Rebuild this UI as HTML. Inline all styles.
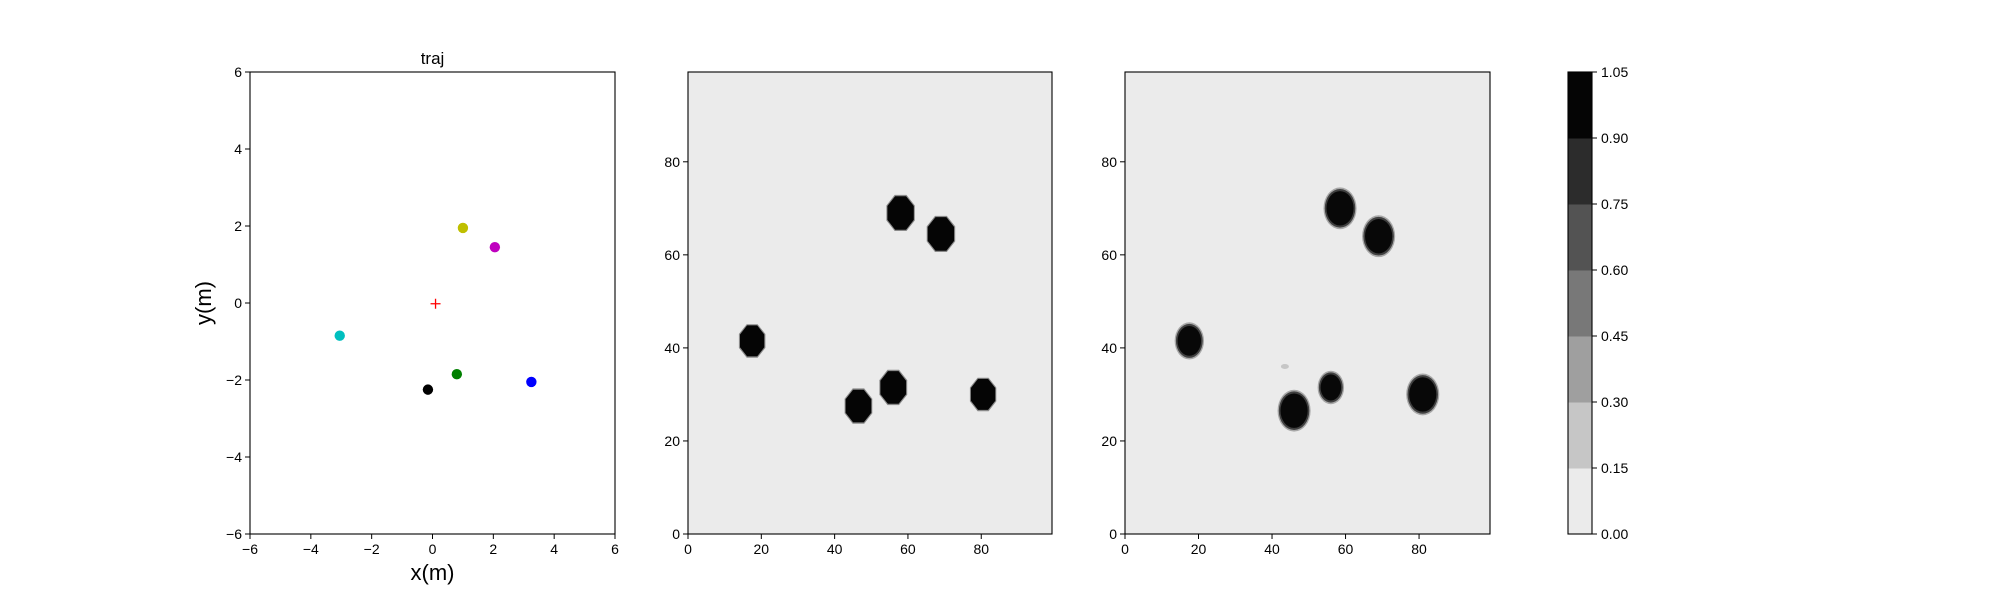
<!DOCTYPE html>
<html><head><meta charset="utf-8"><style>
body{margin:0;background:#fff;}
svg{display:block;font-family:"Liberation Sans","DejaVu Sans",sans-serif;}
</style></head><body>
<svg id="fig" width="2000" height="600" viewBox="0 0 2000 600" xmlns="http://www.w3.org/2000/svg"></svg>
<script>
// ---- data ----
const trajX = [1.0, 2.05, -3.05, 0.8, -0.15, 3.25];
const trajY = [1.95, 1.45, -0.85, -1.85, -2.25, -2.05];
const trajColors = ['#bfbf00', '#bf00bf', '#00bfbf', '#008000', '#000000', '#0000ff'];
const goalX = [0.1];
const goalY = [-0.02];
const trajTicks = [-6, -4, -2, 0, 2, 4, 6];

const map1X = [17.5, 58, 69, 46.5, 56, 80.5];
const map1Y = [41.5, 69, 64.5, 27.5, 31.5, 30];
const map1R = [3.6, 3.9, 3.9, 3.8, 3.8, 3.6];

const map2X = [17.5, 58.5, 69, 46, 56, 81];
const map2Y = [41.5, 70, 64, 26.5, 31.5, 30];
const map2R = [3.5, 4.0, 4.0, 4.0, 3.1, 4.0];
const faintX = [43.5];
const faintY = [36];

const mapXTicks = [0, 20, 40, 60, 80];
const mapYTicks = [0, 20, 40, 60, 80];
const cbLevels = [0.00, 0.15, 0.30, 0.45, 0.60, 0.75, 0.90, 1.05];
const cbColors = ['#ebebeb', '#c6c6c6', '#9f9f9f', '#787878', '#535353', '#2c2c2c', '#050505'];

// ---- helpers ----
const NS = 'http://www.w3.org/2000/svg';
const svg = document.getElementById('fig');
function el(tag, attrs, parent) {
  const e = document.createElementNS(NS, tag);
  for (const k in attrs) e.setAttribute(k, attrs[k]);
  (parent || svg).appendChild(e);
  return e;
}
const TOP = 72, BOT = 534;
function scale(d0, d1, r0, r1) { return v => r0 + (v - d0) / (d1 - d0) * (r1 - r0); }

function axesFrame(x0, x1, name) {
  const r = el('rect', {x: x0, y: TOP, width: x1 - x0, height: BOT - TOP, fill: 'none', stroke: '#000', 'stroke-width': 1.1});
  
  
}
function xTicks(ticks, sx, prefix) {
  ticks.forEach(t => {
    const x = sx(t);
    const l = el('line', {x1: x, x2: x, y1: BOT, y2: BOT + 5, stroke: '#000', 'stroke-width': 1});
    
    
    const tx = el('text', {x: x, y: BOT + 20, 'font-size': 14, 'text-anchor': 'middle', fill: '#000'});
    tx.textContent = String(t).replace('-', '\u2212');
    
    
  });
}
function yTicks(ticks, sy, x0, prefix) {
  ticks.forEach(t => {
    const y = sy(t);
    const l = el('line', {x1: x0 - 5, x2: x0, y1: y, y2: y, stroke: '#000', 'stroke-width': 1});
    
    
    const tx = el('text', {x: x0 - 8, y: y + 5, 'font-size': 14, 'text-anchor': 'end', fill: '#000'});
    tx.textContent = String(t).replace('-', '\u2212');
    
    
  });
}

// ---- panel 1: trajectory ----
{
  const x0 = 250, x1 = 615;
  const sx = scale(-6, 6, x0, x1), sy = scale(-6, 6, BOT, TOP);
  axesFrame(x0, x1, 'traj-axes');
  trajX.forEach((v, i) => {
    const c = el('circle', {cx: sx(v), cy: sy(trajY[i]), r: 5.2, fill: trajColors[i]});
    
    
  });
  goalX.forEach((v, i) => {
    const cx = sx(v), cy = sy(goalY[i]);
    const g = el('path', {d: `M${cx-5},${cy}H${cx+5}M${cx},${cy-5}V${cy+5}`, stroke: '#ff0000', 'stroke-width': 1.3, fill: 'none'});
    
    
  });
  xTicks(trajTicks, sx, 'traj');
  yTicks(trajTicks, sy, x0, 'traj');
  const t = el('text', {x: (x0 + x1) / 2, y: 64, 'font-size': 17, 'text-anchor': 'middle'});
  t.textContent = 'traj';
  
  
  const xl = el('text', {x: (x0 + x1) / 2, y: 580, 'font-size': 22, 'text-anchor': 'middle'});
  xl.textContent = 'x(m)';
  
  
  const yl = el('text', {x: 0, y: 0, 'font-size': 22, 'text-anchor': 'middle', transform: `translate(211,${(TOP + BOT) / 2}) rotate(-90)`});
  yl.textContent = 'y(m)';
  
  
}

// ---- map panels ----
function octagon(cx, cy, rx, ry) {
  const pts = [];
  for (let k = 0; k < 8; k++) {
    const a = Math.PI / 8 + k * Math.PI / 4;
    pts.push((cx + rx * Math.cos(a)).toFixed(1) + ',' + (cy + ry * Math.sin(a)).toFixed(1));
  }
  return pts.join(' ');
}
function mapPanel(x0, x1, xs, ys, rs, prefix, soft) {
  const sx = scale(0, 99.3, x0, x1), sy = scale(0, 99.3, BOT, TOP);
  const bg = el('rect', {x: x0, y: TOP, width: x1 - x0, height: BOT - TOP, fill: '#ebebeb'});
  
  
  const ux = (x1 - x0) / 99.3, uy = (BOT - TOP) / 99.3;
  xs.forEach((v, i) => {
    const cx = sx(v), cy = sy(ys[i]);
    if (soft) {
      const h = el('ellipse', {cx: cx, cy: cy, rx: (rs[i] + 0.5) * ux, ry: (rs[i] + 0.5) * uy, fill: '#a8a8a8'});
      
      
      const m = el('ellipse', {cx: cx, cy: cy, rx: (rs[i] + 0.15) * ux, ry: (rs[i] + 0.15) * uy, fill: '#404040'});
      
      
      const b = el('ellipse', {cx: cx, cy: cy, rx: (rs[i] - 0.3) * ux, ry: (rs[i] - 0.3) * uy, fill: '#080808'});
      
      
    } else {
      const h = el('polygon', {points: octagon(cx, cy, (rs[i] + 0.3) * ux, (rs[i] + 0.3) * uy), fill: '#8a8a8a'});
      
      
      const b = el('polygon', {points: octagon(cx, cy, rs[i] * ux, rs[i] * uy), fill: '#050505'});
      
      
    }
  });
  axesFrame(x0, x1, prefix + '-axes');
  xTicks(mapXTicks, sx, prefix);
  yTicks(mapYTicks, sy, x0, prefix);
  return {sx, sy};
}
mapPanel(688, 1052, map1X, map1Y, map1R, 'map-gt', false);
const p3 = mapPanel(1125, 1490, map2X, map2Y, map2R, 'map-pred', true);
faintX.forEach((v, i) => {
  const f = el('ellipse', {cx: p3.sx(v), cy: p3.sy(faintY[i]), rx: 4, ry: 2.5, fill: '#c6c6c6'});
  
  
});

// ---- colorbar ----
{
  const x0 = 1568, x1 = 1592;
  const sy = scale(0, 1.05, BOT, TOP);
  cbColors.forEach((c, i) => {
    const yTop = sy(cbLevels[i + 1]), yBot = sy(cbLevels[i]);
    const r = el('rect', {x: x0, y: yTop, width: x1 - x0, height: yBot - yTop + 0.5, fill: c});
    
    
  });
  const f = el('rect', {x: x0, y: TOP, width: x1 - x0, height: BOT - TOP, fill: 'none', stroke: '#000', 'stroke-width': 1.1});
  
  
  cbLevels.forEach(v => {
    const y = sy(v);
    const l = el('line', {x1: x1, x2: x1 + 5, y1: y, y2: y, stroke: '#000', 'stroke-width': 1});
    
    
    const t = el('text', {x: x1 + 9, y: y + 5, 'font-size': 14});
    t.textContent = v.toFixed(2);
    
    
  });
}
</script>
</body></html>
